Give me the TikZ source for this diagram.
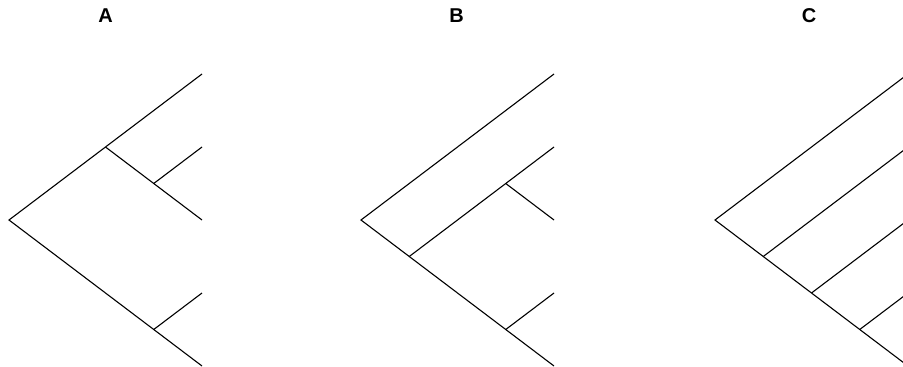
\documentclass[tikz,border=0pt]{standalone}
\usepackage{fontspec}
\setmainfont{Liberation Sans}
\usetikzlibrary{calc}
\tikzset{
  branch/.style={line width=1.1pt, line cap=butt, black},
  lbl/.style={font=\fontsize{20}{24}\selectfont\bfseries, inner sep=0pt, anchor=center}
}
\begin{document}
\begin{tikzpicture}[x=1pt,y=-1pt]
\useasboundingbox (0,0) rectangle (903,367);
\clip (0,0) rectangle (903,367);
% labels
\node[lbl] (labA) at (105.5,16) {A};
\node[lbl] (labB) at (456.5,16) {B};
\node[lbl] (labC) at (809,16) {C};
% ---------- Tree A ----------
\coordinate (rA) at (9,220);
\coordinate (a1) at (202,74);
\coordinate (a2) at (202,147);
\coordinate (a3) at (202,220);
\coordinate (a4) at (202,293);
\coordinate (a5) at (202,366);
\coordinate (iA1) at ($(rA)!0.5!(a1)$);
\coordinate (iA2) at ($(iA1)!0.5!(a3)$);
\coordinate (iA3) at ($(rA)!0.75!(a5)$);
\draw[branch] (a1) -- (rA) -- (a5);
\draw[branch] (iA1) -- (a3);
\draw[branch] (iA2) -- (a2);
\draw[branch] (iA3) -- (a4);
% ---------- Tree B ----------
\coordinate (rB) at (361,220);
\coordinate (b1) at (554,74);
\coordinate (b2) at (554,147);
\coordinate (b3) at (554,220);
\coordinate (b4) at (554,293);
\coordinate (b5) at (554,366);
\coordinate (iB1) at ($(rB)!0.25!(b5)$);
\coordinate (iB2) at ($(iB1)!0.6667!(b2)$);
\coordinate (iB3) at ($(rB)!0.75!(b5)$);
\draw[branch] (b1) -- (rB) -- (b5);
\draw[branch] (iB1) -- (b2);
\draw[branch] (iB2) -- (b3);
\draw[branch] (iB3) -- (b4);
% ---------- Tree C ----------
\coordinate (rC) at (715,220);
\coordinate (c1) at (908,74);
\coordinate (c2) at (908,147);
\coordinate (c3) at (908,220);
\coordinate (c4) at (908,293);
\coordinate (c5) at (908,366);
\coordinate (iC1) at ($(rC)!0.25!(c5)$);
\coordinate (iC2) at ($(rC)!0.5!(c5)$);
\coordinate (iC3) at ($(rC)!0.75!(c5)$);
\draw[branch] (c1) -- (rC) -- (c5);
\draw[branch] (iC1) -- (c2);
\draw[branch] (iC2) -- (c3);
\draw[branch] (iC3) -- (c4);
\end{tikzpicture}
\end{document}
